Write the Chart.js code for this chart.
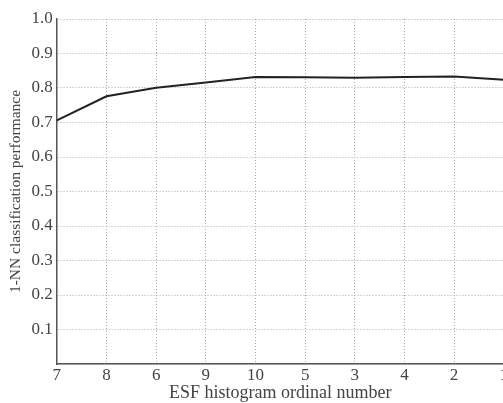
<!DOCTYPE html>
<html>
<head>
<meta charset="utf-8">
<script src="https://cdn.jsdelivr.net/npm/chart.js@4"></script>
<style>
  html, body { margin: 0; padding: 0; background: #fff; overflow: hidden; }
  #wrap { width: 509px; height: 403px; }
</style>
</head>
<body>
<div id="wrap"><canvas id="myChart" width="509" height="403"></canvas></div>
<script>
// histogram ordinal numbers, in the order they were added
const ordinals = ['7', '8', '6', '9', '10', '5', '3', '4', '2', '1'];
// 1-NN classification performance
const performance = [0.706, 0.776, 0.801, 0.816, 0.832, 0.831, 0.830, 0.832, 0.833, 0.824];
const yTicks = [0.1, 0.2, 0.3, 0.4, 0.5, 0.6, 0.7, 0.8, 0.9, 1.0];

const serif = "'Liberation Serif', 'DejaVu Serif', serif";
const textColor = '#444';

var chrt = document.getElementById('myChart');

var line = new Chart(chrt, {
    type: 'line',
    data: {
        labels: ordinals,
        datasets: [{
            label: 'performance',
            data: performance,
            borderColor: '#222',
            borderWidth: 2,
            pointRadius: 0,
            tension: 0,
            fill: false
        }]
    },
    options: {
        responsive: false,
        animation: false,
        layout: { padding: { top: 19, right: 0, left: 7, bottom: -1 } },
        plugins: {
            legend: { display: false },
            tooltip: { enabled: false }
        },
        scales: {
            x: {
                offset: false,
                grid: { color: '#aaa', lineWidth: 1, drawTicks: false },
                border: { display: true, color: '#555', width: 1.5, dash: [1, 2] },
                ticks: {
                    color: textColor,
                    font: { family: serif, size: 17 },
                    maxRotation: 0,
                    autoSkip: false,
                    padding: 1
                },
                title: {
                    display: true,
                    text: 'ESF histogram ordinal number',
                    color: textColor,
                    font: { family: serif, size: 18 },
                    padding: { top: -4, bottom: 0 }
                }
            },
            y: {
                min: 0,
                max: 1,
                afterBuildTicks: function (axis) {
                    axis.ticks = [{ value: 0 }].concat(yTicks.map(v => ({ value: v })));
                },
                grid: { color: '#aaa', lineWidth: 1, drawTicks: false },
                border: { display: true, color: '#555', width: 1.5, dash: [1, 2] },
                ticks: {
                    color: textColor,
                    font: { family: serif, size: 17 },
                    padding: 4,
                    callback: function (v) { return v === 0 ? '' : v.toFixed(1); }
                },
                title: {
                    display: true,
                    text: '1-NN classification performance',
                    color: textColor,
                    font: { family: serif, size: 15.5 },
                    padding: { top: 0, bottom: 2 }
                }
            }
        }
    }
});
</script>
</body>
</html>
